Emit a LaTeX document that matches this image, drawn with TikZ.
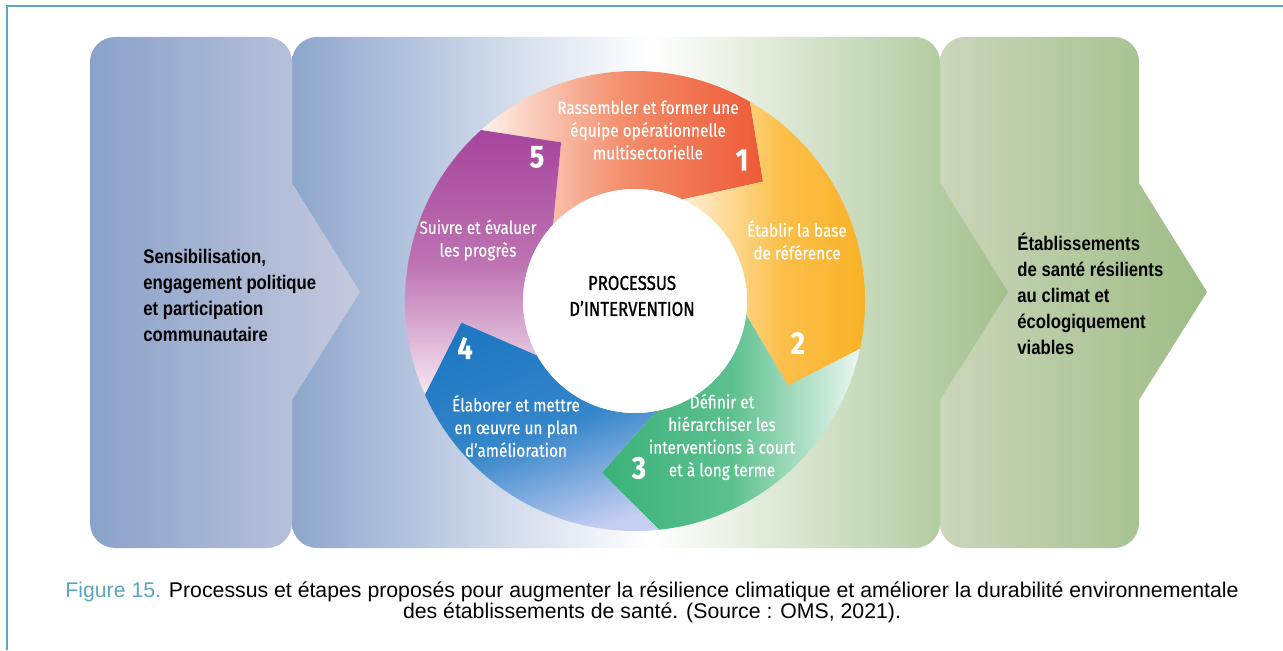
\documentclass[tikz,border=0pt]{standalone}
\usepackage{fontspec}
\setmainfont{Liberation Sans}
\newfontfamily\panelfont[FakeStretch=0.85]{Liberation Sans}
\newfontfamily\ringfont[FakeStretch=0.86,FakeBold=0.3]{Fira Sans}
\newfontfamily\corefont[FakeStretch=0.84,FakeBold=1.1]{Fira Sans}
\usetikzlibrary{positioning}

\definecolor{framecol}{HTML}{5DA5C0}
\definecolor{leftA}{HTML}{8AA2C9}
\definecolor{leftB}{HTML}{C5C9DE}
\definecolor{midA}{HTML}{8EA6CC}
\definecolor{midB}{HTML}{A2C08C}
\definecolor{rightA}{HTML}{CBD6BA}
\definecolor{rightB}{HTML}{9DBC85}
\definecolor{redhead}{HTML}{EE5A36}
\definecolor{redmid}{HTML}{F38E6C}
\definecolor{redtail}{HTML}{FFF1EA}
\definecolor{orahead}{HTML}{F9AF20}
\definecolor{oramid}{HTML}{FBBF4A}
\definecolor{oratail}{HTML}{FEF0D4}
\definecolor{grnhead}{HTML}{3AB27A}
\definecolor{grnmid}{HTML}{5CC08E}
\definecolor{grntail}{HTML}{ECF6F0}
\definecolor{bluhead}{HTML}{1E78C2}
\definecolor{blumid}{HTML}{3586CA}
\definecolor{blutail}{HTML}{C6CEF1}
\definecolor{purhead}{HTML}{A6449C}
\definecolor{purmid}{HTML}{BD72B1}
\definecolor{purtail}{HTML}{F6E8F2}

\tikzstyle{paneltext} = [anchor=west, align=left, inner sep=0pt, font=\panelfont\bfseries\fontsize{11.2}{14.8}\selectfont]
\tikzstyle{ringtext} = [align=center, text=white, inner sep=0pt, font=\ringfont\fontsize{10.2}{12.9}\selectfont]
\tikzstyle{stepnum} = [text=white, inner sep=0pt, font=\ringfont\bfseries\fontsize{18}{18}\selectfont]
\tikzstyle{coretext} = [align=center, inner sep=0pt, font=\corefont\fontsize{11.4}{14.8}\selectfont]

% one arrow of the cycle: tail at angle #1, head at angle #2
\def\Ro{46mm}
\def\Ri{22.4mm}
\def\Rm{35mm}
\newcommand{\ringseg}[3]{%
  \pgfmathsetmacro\ta{#1-17}\pgfmathsetmacro\ia{#1+5}%
  \pgfmathsetmacro\tb{#2-17}\pgfmathsetmacro\ib{#2+5}%
  \path[#3] (#1:\Ro) arc[start angle=#1, end angle=#2, radius=\Ro]
    -- (\tb:\Rm) -- (\ib:\Ri) arc[start angle=\ib, end angle=\ia, radius=\Ri]
    -- (\ta:\Rm) -- cycle;}

\begin{document}
\begin{tikzpicture}[x=0.2mm, y=0.2mm]

\useasboundingbox (0,0) rectangle (1283,650);
\fill[white] (0,0) rectangle (1283,650);
\draw[framecol, line width=0.45mm] (7,0) -- (7,644) -- (1283,644);

% panels
\path[left color=rightA, right color=rightB] (940,358) -- (940,588) arc[start angle=180, end angle=90, radius=5mm] -- (1114,613) arc[start angle=90, end angle=0, radius=5mm] -- (1139,467) -- (1207,358) -- (1139,250) -- (1139,127) arc[start angle=0, end angle=-90, radius=5mm] -- (965,102) arc[start angle=270, end angle=180, radius=5mm] -- cycle;
\path[left color=midA, right color=midB, middle color=white] (292,358) -- (292,588) arc[start angle=180, end angle=90, radius=5mm] -- (915,613) arc[start angle=90, end angle=0, radius=5mm] -- (940,467) -- (1008,358) -- (940,250) -- (940,127) arc[start angle=0, end angle=-90, radius=5mm] -- (317,102) arc[start angle=270, end angle=180, radius=5mm] -- cycle;
\path[left color=leftA, right color=leftB] (90,358) -- (90,588) arc[start angle=180, end angle=90, radius=5mm] -- (267,613) arc[start angle=90, end angle=0, radius=5mm] -- (292,467) -- (360,358) -- (292,250) -- (292,127) arc[start angle=0, end angle=-90, radius=5mm] -- (115,102) arc[start angle=270, end angle=180, radius=5mm] -- cycle;

\node (aware) [paneltext] at (143,355) {Sensibilisation,\\engagement politique\\et participation\\communautaire};
\node (result) [paneltext] at (1017,356) {Établissements\\de santé résilients\\au climat et\\écologiquement\\viables};

% cycle
\begin{scope}[shift={(635,349)}]
\ringseg{132}{60}{left color=redtail, right color=redhead, middle color=redmid}
\ringseg{60}{-12}{left color=oratail, right color=orahead, middle color=oramid}
\ringseg{-12}{-84}{left color=grnhead, right color=grntail, middle color=grnmid}
\ringseg{-84}{-156}{top color=bluhead, bottom color=blutail, middle color=blumid, shading angle=20}
\ringseg{-156}{-228}{top color=purhead, bottom color=purtail, middle color=purmid}
\fill[white] (0,0) circle[radius=\Ri];

\node (core) [coretext] at (-3,5) {PROCESSUS\\D’INTERVENTION};
\node (step1) [ringtext] at (13,171) {Rassembler et former une\\équipe opérationnelle\\multisectorielle};
\node (step2) [ringtext] at (162,61) {Établir la base\\de référence};
\node (step3) [ringtext] at (87,-136) {Définir et\\hiérarchiser les\\interventions à court\\et à long terme};
\node (step4) [ringtext] at (-119,-125) {Élaborer et mettre\\en œuvre un plan\\d’amélioration};
\node (step5) [ringtext] at (-157,61) {Suivre et évaluer\\les progrès};
\node (num1) [stepnum] at (107,141) {1};
\node (num2) [stepnum] at (163,-42) {2};
\node (num3) [stepnum] at (4,-167) {3};
\node (num4) [stepnum] at (-170,-47) {4};
\node (num5) [stepnum] at (-98,144) {5};
\end{scope}

\node (caption) [align=center, font=\fontsize{12.1}{12}\selectfont] at (652,48) {{\color{framecol}Figure 15.} Processus et étapes proposés pour augmenter la résilience climatique et améliorer la durabilité environnementale\\des établissements de santé. (Source : OMS, 2021).};

\end{tikzpicture}
\end{document}
